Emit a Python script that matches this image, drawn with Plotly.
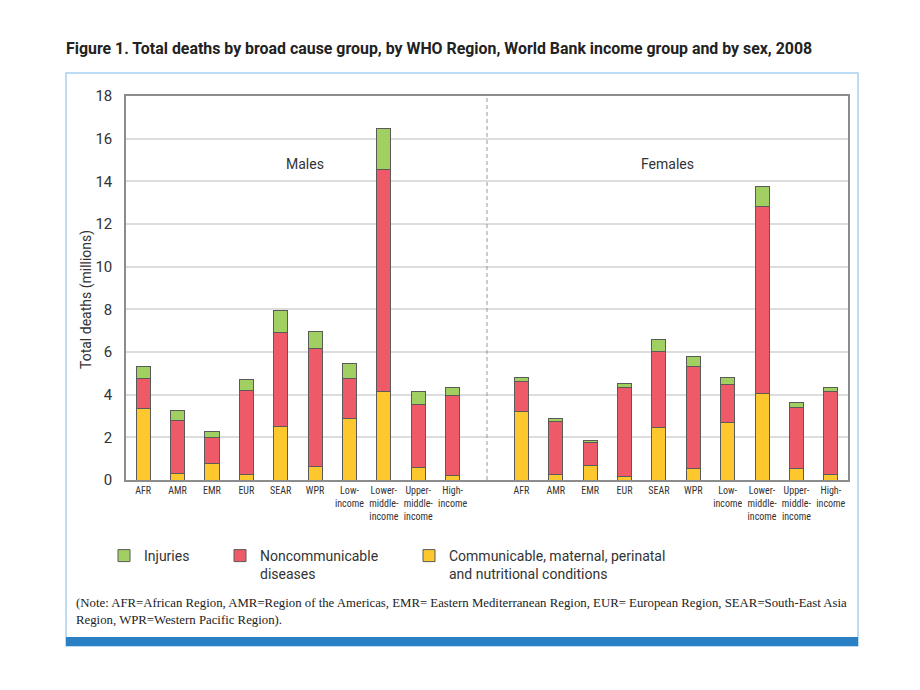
import plotly.graph_objects as go

# ---- data (millions of deaths, 2008) ----
categories = ["AFR", "AMR", "EMR", "EUR", "SEAR", "WPR",
              "Low-<br>income", "Lower-<br>middle-<br>income",
              "Upper-<br>middle-<br>income", "High-<br>income"]

male_communicable = [3.34, 0.31, 0.76, 0.24, 2.50, 0.62, 2.87, 4.15, 0.59, 0.23]
male_noncommunicable = [1.42, 2.48, 1.23, 3.97, 4.41, 5.54, 1.91, 10.41, 2.93, 3.75]
male_injuries = [0.55, 0.45, 0.29, 0.49, 1.02, 0.78, 0.66, 1.92, 0.63, 0.36]

female_communicable = [3.21, 0.28, 0.67, 0.18, 2.47, 0.54, 2.69, 4.07, 0.53, 0.24]
female_noncommunicable = [1.43, 2.47, 1.07, 4.16, 3.55, 4.80, 1.80, 8.75, 2.87, 3.90]
female_injuries = [0.18, 0.12, 0.12, 0.17, 0.58, 0.44, 0.33, 0.96, 0.22, 0.18]

y_ticks = [0, 2, 4, 6, 8, 10, 12, 14, 16, 18]

# positions: males 0..9, gap at 10, females 11..20
male_pos = list(range(len(categories)))
female_pos = [p + len(categories) + 1 for p in male_pos]
x_pos = male_pos + female_pos
tick_text = categories + categories

comm = male_communicable + female_communicable
ncd = male_noncommunicable + female_noncommunicable
inj = male_injuries + female_injuries

# ---- layout geometry helpers (pixel -> paper) ----
W, H = 920, 690
L, R, T, B = 126, 848, 96, 480


def px2x(px):
    return (px - L) / (R - L)


def py2y(py):
    return (B - py) / (B - T)


FONT = "Roboto, 'Open Sans', sans-serif"
NARROW = "'Roboto Condensed', 'Liberation Sans Narrow', 'DejaVu Sans Condensed', 'Arial Narrow', Roboto, sans-serif"
YELLOW = "#fcc82d"
RED = "#ef5a68"
GREEN = "#a2cf62"
OUTLINE = "#5a5a5a"
BAR_W = 0.41

fig = go.Figure()
fig.add_trace(go.Bar(x=x_pos, y=comm, width=BAR_W, name="Communicable, maternal, perinatal<br>and nutritional conditions",
                     marker=dict(color=YELLOW, line=dict(color=OUTLINE, width=1)),
                     legend="legend3", showlegend=True))
fig.add_trace(go.Bar(x=x_pos, y=ncd, width=BAR_W, name="Noncommunicable<br>diseases",
                     marker=dict(color=RED, line=dict(color=OUTLINE, width=1)),
                     legend="legend2", showlegend=True))
fig.add_trace(go.Bar(x=x_pos, y=inj, width=BAR_W, name="Injuries",
                     marker=dict(color=GREEN, line=dict(color=OUTLINE, width=1)),
                     legend="legend", showlegend=True))

legend_common = dict(xanchor="left", yanchor="top", bgcolor="rgba(0,0,0,0)",
                     font=dict(family=FONT, size=14, color="#333333"), valign="top",
                     borderwidth=0)

fig.update_layout(
    width=W, height=H,
    margin=dict(l=L, r=W - R, t=T, b=H - B, autoexpand=False),
    paper_bgcolor="white", plot_bgcolor="white",
    barmode="stack",
    showlegend=True,
    title=dict(text="<b>Figure 1. Total deaths by broad cause group, by WHO Region, World Bank income group and by sex, 2008</b>",
               xref="container", yref="container", x=66 / W, xanchor="left",
               y=1 - 48 / H, yanchor="middle",
               font=dict(family=FONT, size=15.9, color="#222222")),
    legend=dict(x=px2x(104), y=py2y(540), **legend_common),
    legend2=dict(x=px2x(220), y=py2y(540), **legend_common),
    legend3=dict(x=px2x(409), y=py2y(540), **legend_common),
    xaxis=dict(range=[-0.5, 20.5], tickmode="array", tickvals=x_pos, ticktext=tick_text,
               tickangle=0,
               showgrid=False, zeroline=False, showline=True, mirror=True,
               linecolor="#8c8c8c", linewidth=1.5, ticks="",
               tickfont=dict(family=NARROW, size=10, color="#333333")),
    yaxis=dict(range=[0, 18], tickmode="array", tickvals=y_ticks,
               showgrid=True, gridcolor="#dddddd", gridwidth=1.5, zeroline=False,
               showline=True, mirror=True, linecolor="#8c8c8c", linewidth=1.5,
               ticks="", ticklabelstandoff=9,
               tickfont=dict(family=FONT, size=15, color="#333333")),
    bargap=0.5,
)

# y-axis title
fig.add_annotation(text="Total deaths (millions)", textangle=-90, xref="paper", yref="paper",
                   x=px2x(86), y=py2y(300), xanchor="center", yanchor="middle", showarrow=False,
                   font=dict(family=FONT, size=14, color="#333333"))

# panel labels
fig.add_annotation(text="Males", xref="x", yref="y", x=4.71, y=14.8, showarrow=False,
                   font=dict(family=FONT, size=14, color="#333333"))
fig.add_annotation(text="Females", xref="x", yref="y", x=15.25, y=14.8, showarrow=False,
                   font=dict(family=FONT, size=14, color="#333333"))

# note
fig.add_annotation(text="(Note: AFR=African Region, AMR=Region of the Americas, EMR= Eastern Mediterranean Region, "
                        "EUR= European Region, SEAR=South-East Asia<br>Region, WPR=Western Pacific Region).",
                   xref="paper", yref="paper", x=px2x(74), y=py2y(611), xanchor="left", yanchor="middle",
                   align="left", showarrow=False,
                   font=dict(family="'Liberation Serif', 'DejaVu Serif', serif", size=12.8, color="#222222"))

# separator between males and females
fig.add_shape(type="line", xref="x", yref="paper", x0=len(categories), x1=len(categories), y0=0, y1=1,
              line=dict(color="#9a9a9a", width=1, dash="4px,3px"))

# outer frame and blue footer bar
fig.add_shape(type="rect", xref="paper", yref="paper", x0=px2x(66), x1=px2x(858), y0=py2y(73), y1=py2y(646),
              line=dict(color="#a8d0ee", width=1.5), fillcolor="rgba(0,0,0,0)", layer="below")
fig.add_shape(type="rect", xref="paper", yref="paper", x0=px2x(66), x1=px2x(858), y0=py2y(637), y1=py2y(646),
              line=dict(width=0), fillcolor="#2a80c4")

fig.write_html("out.html", config={"displayModeBar": False},
               post_script="document.body.style.margin='0';")
